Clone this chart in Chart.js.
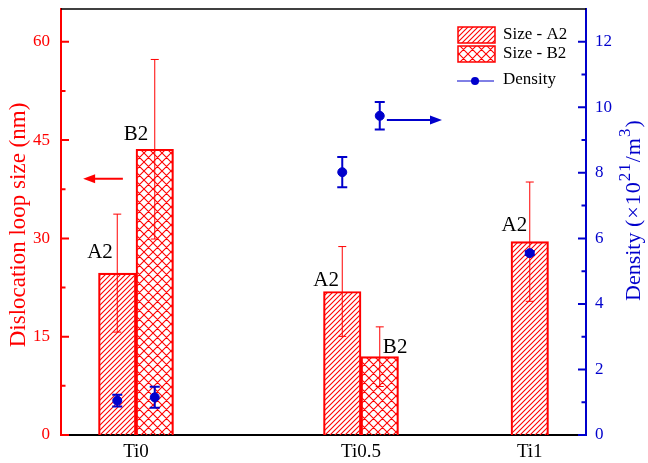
<!DOCTYPE html>
<html>
<head>
<meta charset="utf-8">
<script src="https://cdn.jsdelivr.net/npm/chart.js@4.4.1/dist/chart.umd.min.js"></script>
<style>
  html, body { margin: 0; padding: 0; background: #fff; }
  #wrap { width: 648px; height: 463px; position: relative; }
</style>
</head>
<body>
<div id="wrap"><canvas id="loopChart"></canvas></div>
<script>
// categories and where they sit on the x axis (one unit = one bar width)
const categories = ["Ti0", "Ti0.5", "Ti1"];
const catX = [0, 6, 10.5];

// dislocation loop size (nm), left axis
const sizeA2 = [24.7, 21.9, 29.5];
const errA2 = [9.0, 6.85, 9.1];
const sizeB2 = [43.6, 11.95, null];
const errB2 = [13.7, 4.55, null];

// loop density (x10^21 /m^3), right axis
const densA2 = [1.05, 8.02, 5.55];
const densA2Err = [0.18, 0.46, 0.06];
const densB2 = [1.15, 9.74, null];
const densB2Err = [0.32, 0.42, null];

const leftTicks = [0, 15, 30, 45, 60];
const rightTicks = [0, 2, 4, 6, 8, 10, 12];

// text labels over the bars, in data units (left axis)
const barLabels = [
  { text: "A2", x: -0.96, y: 27.8 },
  { text: "B2", x: 0.0, y: 45.8 },
  { text: "A2", x: 5.07, y: 23.6 },
  { text: "B2", x: 6.91, y: 13.3 },
  { text: "A2", x: 10.09, y: 32.0 },
];

// arrows pointing to the axis each series belongs to
const arrows = [
  { axis: "y", y: 39.1, from: -0.35, to: -1.41, color: "#ff0000" },
  { axis: "y1", y: 9.61, from: 6.69, to: 8.16, color: "#0000cc" },
];

const RED = "#ff0000";
const BLUE = "#0000cc";
const FONT = '"Liberation Serif", "Times New Roman", serif';

Chart.defaults.font.family = FONT;

const canvas = document.getElementById("loopChart");
const ctx = canvas.getContext("2d");

// hatch fills for the bars
function makeHatch(size, cross) {
  const c = document.createElement("canvas");
  c.width = size;
  c.height = size;
  const g = c.getContext("2d");
  g.strokeStyle = RED;
  g.lineWidth = 1.1;
  g.beginPath();
  g.moveTo(0, size); g.lineTo(size, 0);
  g.moveTo(-1, 1); g.lineTo(1, -1);
  g.moveTo(size - 1, size + 1); g.lineTo(size + 1, size - 1);
  if (cross) {
    g.moveTo(0, 0); g.lineTo(size, size);
    g.moveTo(-1, size - 1); g.lineTo(1, size + 1);
    g.moveTo(size - 1, -1); g.lineTo(size + 1, 1);
  }
  g.stroke();
  return ctx.createPattern(c, "repeat");
}
const hatchA2 = makeHatch(5, false);
const hatchB2 = makeHatch(9, true);

// bar centres: A2 left of the category, B2 right (A2 centred when alone)
const a2X = catX.map((x, i) => (sizeB2[i] == null ? x : x - 0.5));
const b2X = catX.map((x) => x + 0.5);

const a2Data = sizeA2.map((v, i) => ({ x: a2X[i], y: v }));
const b2Data = [];
const b2Errs = [];
sizeB2.forEach((v, i) => {
  if (v != null) { b2Data.push({ x: b2X[i], y: v }); b2Errs.push(errB2[i]); }
});

const densData = [];
const densErrs = [];
densA2.forEach((v, i) => {
  densData.push({ x: a2X[i], y: v }); densErrs.push(densA2Err[i]);
  if (densB2[i] != null) { densData.push({ x: b2X[i], y: densB2[i] }); densErrs.push(densB2Err[i]); }
});

function drawErrors(chart, index, scaleId, color, width, cap) {
  const ds = chart.data.datasets[index];
  const meta = chart.getDatasetMeta(index);
  const scale = chart.scales[scaleId];
  const c = chart.ctx;
  c.save();
  c.strokeStyle = color;
  c.lineWidth = width;
  meta.data.forEach((el, i) => {
    const e = ds.errors[i];
    if (e == null) return;
    const v = ds.data[i].y;
    const top = scale.getPixelForValue(v + e);
    const bot = scale.getPixelForValue(v - e);
    c.beginPath();
    c.moveTo(el.x, top); c.lineTo(el.x, bot);
    c.moveTo(el.x - cap, top); c.lineTo(el.x + cap, top);
    c.moveTo(el.x - cap, bot); c.lineTo(el.x + cap, bot);
    c.stroke();
  });
  c.restore();
}

const extras = {
  id: "extras",
  afterDatasetDraw(chart, args) {
    if (args.index === 0) drawErrors(chart, 0, "y", RED, 1, 4);
    if (args.index === 1) drawErrors(chart, 1, "y", RED, 1, 4);
    if (args.index === 2) drawErrors(chart, 2, "y1", BLUE, 2, 5);
  },
  afterDraw(chart) {
    const c = chart.ctx;
    const area = chart.chartArea;
    const x = chart.scales.x;

    // top frame line
    c.save();
    c.strokeStyle = "#000";
    c.lineWidth = 1.5;
    c.beginPath();
    c.moveTo(area.left, area.top); c.lineTo(area.right, area.top);
    c.stroke();

    // inward tick marks with minor ticks between
    const tickSet = (scale, list, edge, dir, color) => {
      c.strokeStyle = color;
      c.lineWidth = 2;
      c.beginPath();
      list.forEach((v, i) => {
        const p = scale.getPixelForValue(v);
        c.moveTo(edge, p); c.lineTo(edge + dir * 8, p);
        const next = i < list.length - 1 ? list[i + 1] : v + (v - list[i - 1]);
        const mid = (v + next) / 2;
        if (mid < scale.max) {
          const pm = scale.getPixelForValue(mid);
          c.moveTo(edge, pm); c.lineTo(edge + dir * 4.5, pm);
        }
      });
      c.stroke();
    };
    tickSet(chart.scales.y, leftTicks, area.left, 1, RED);
    tickSet(chart.scales.y1, rightTicks, area.right, -1, BLUE);

    // axis titles
    c.fillStyle = RED;
    c.font = "23px " + FONT;
    c.textAlign = "center";
    c.textBaseline = "middle";
    c.translate(19, (area.top + area.bottom) / 2 + 3);
    c.rotate(-Math.PI / 2);
    c.fillText("Dislocation loop size (nm)", 0, 0);
    c.setTransform(1, 0, 0, 1, 0, 0);

    c.fillStyle = BLUE;
    c.textAlign = "left";
    c.translate(634, 301);
    c.rotate(-Math.PI / 2);
    let pos = 0;
    [["Density ", false], ["(\u00d710", false], ["21", true], ["/m", false], ["3", true], [")", false]].forEach(([t, sup], i) => {
      c.font = (sup ? 17 : 22) + "px " + FONT;
      c.letterSpacing = i > 0 ? "1px" : "0px";
      c.fillText(t, pos, sup ? -8 : 0);
      pos += c.measureText(t).width;
    });
    c.letterSpacing = "0px";
    c.setTransform(1, 0, 0, 1, 0, 0);

    // A2 / B2 labels
    c.fillStyle = "#000";
    c.font = "21px " + FONT;
    c.textAlign = "center";
    barLabels.forEach((l) => {
      c.fillText(l.text, x.getPixelForValue(l.x), chart.scales.y.getPixelForValue(l.y));
    });

    // arrows
    arrows.forEach((a) => {
      const py = chart.scales[a.axis].getPixelForValue(a.y);
      const x0 = x.getPixelForValue(a.from);
      const x1 = x.getPixelForValue(a.to);
      const d = Math.sign(x1 - x0);
      c.strokeStyle = a.color;
      c.fillStyle = a.color;
      c.lineWidth = 2;
      c.beginPath();
      c.moveTo(x0, py); c.lineTo(x1 - d * 10, py);
      c.stroke();
      c.beginPath();
      c.moveTo(x1, py);
      c.lineTo(x1 - d * 12, py - 4.5);
      c.lineTo(x1 - d * 12, py + 4.5);
      c.closePath();
      c.fill();
    });

    // legend
    const lx = 458;
    c.lineWidth = 1.5;
    c.strokeStyle = RED;
    c.fillStyle = hatchA2;
    c.fillRect(lx, 27, 37, 16);
    c.strokeRect(lx, 27, 37, 16);
    c.fillStyle = hatchB2;
    c.fillRect(lx, 46, 37, 16);
    c.strokeRect(lx, 46, 37, 16);
    c.strokeStyle = BLUE;
    c.lineWidth = 1;
    c.beginPath();
    c.moveTo(lx - 1, 81); c.lineTo(lx + 36, 81);
    c.stroke();
    c.fillStyle = BLUE;
    c.beginPath();
    c.arc(lx + 17, 81, 4, 0, Math.PI * 2);
    c.fill();
    c.fillStyle = "#000";
    c.font = "17px " + FONT;
    c.textAlign = "left";
    c.fillText("Size - A2", lx + 45, 35);
    c.fillText("Size - B2", lx + 45, 54);
    c.fillText("Density", lx + 45, 80);
    c.restore();
  },
};

new Chart(ctx, {
  type: "bar",
  data: {
    datasets: [
      {
        label: "Size - A2",
        data: a2Data,
        errors: errA2,
        backgroundColor: hatchA2,
        borderColor: RED,
        borderWidth: 1.5,
        order: 2,
      },
      {
        label: "Size - B2",
        data: b2Data,
        errors: b2Errs,
        backgroundColor: hatchB2,
        borderColor: RED,
        borderWidth: 1.5,
        order: 1,
      },
      {
        type: "line",
        label: "Density",
        data: densData,
        errors: densErrs,
        yAxisID: "y1",
        showLine: false,
        pointRadius: 4.5,
        pointBackgroundColor: BLUE,
        pointBorderColor: BLUE,
        borderColor: BLUE,
        order: 0,
      },
    ],
  },
  options: {
    responsive: true,
    maintainAspectRatio: false,
    animation: false,
    grouped: false,
    barPercentage: 1,
    categoryPercentage: 1,
    layout: { padding: { top: 9, left: 0, right: 0, bottom: 0 } },
    plugins: { legend: { display: false }, tooltip: { enabled: false } },
    scales: {
      x: {
        type: "linear",
        min: -2,
        max: 12,
        offset: false,
        z: 1,
        grid: { display: false, drawTicks: false, offset: false },
        border: { color: "#000", width: 2 },
        afterBuildTicks: (s) => { s.ticks = catX.map((v) => ({ value: v })); },
        ticks: {
          callback: (v) => categories[catX.indexOf(v)],
          color: "#000",
          font: { size: 19 },
          padding: 6,
          autoSkip: false,
          maxRotation: 0,
        },
        afterFit: (s) => { s.height = 28; s.paddingLeft = 0; s.paddingRight = 0; },
      },
      y: {
        position: "left",
        min: 0,
        max: 65,
        grid: { display: false, drawTicks: false },
        border: { color: RED, width: 2 },
        afterBuildTicks: (s) => { s.ticks = leftTicks.map((v) => ({ value: v })); },
        ticks: { color: RED, font: { size: 17 }, padding: 11 },
        afterFit: (s) => { s.width = 61; s.paddingTop = 0; s.paddingBottom = 0; },
      },
      y1: {
        position: "right",
        min: 0,
        max: 13,
        grid: { display: false, drawTicks: false },
        border: { color: BLUE, width: 2 },
        afterBuildTicks: (s) => { s.ticks = rightTicks.map((v) => ({ value: v })); },
        ticks: { color: BLUE, font: { size: 17 }, padding: 9 },
        afterFit: (s) => { s.width = 62; s.paddingTop = 0; s.paddingBottom = 0; },
      },
    },
  },
  plugins: [extras],
});
</script>
</body>
</html>
